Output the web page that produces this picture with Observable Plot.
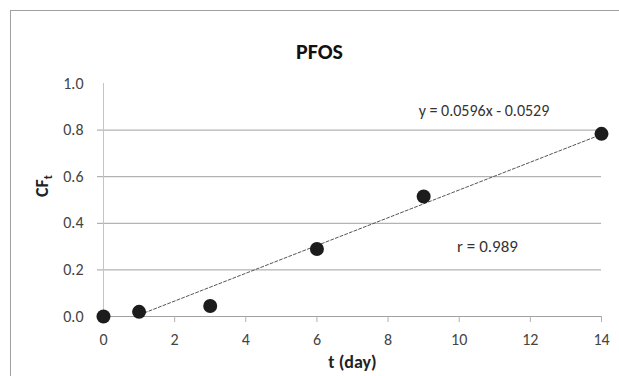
<!DOCTYPE html>
<html>
<head>
<meta charset="utf-8">
<script src="https://cdn.jsdelivr.net/npm/d3@7"></script>
<script src="https://cdn.jsdelivr.net/npm/@observablehq/plot@0.6"></script>
<style>
  body { margin: 0; background: #fff; overflow: hidden; }
  #wrap { position: relative; width: 619px; height: 376px; }
  #border { position: absolute; left: 10px; top: 10px; width: 700px; height: 500px; border-left: 1px solid #a0a0a0; border-top: 1px solid #a0a0a0; pointer-events: none; }
  #chart { position: absolute; left: 0; top: 0; }
  svg { font-family: Carlito, "Liberation Sans", Arial, sans-serif; }
</style>
</head>
<body>
<div id="wrap"><div id="border"></div><div id="chart"></div></div>
<script>
const days = [0, 1, 3, 6, 9, 14];
const cf = [0.0, 0.02, 0.045, 0.29, 0.515, 0.784];
const xTicks = [0, 2, 4, 6, 8, 10, 12, 14];
const yTicks = [0.0, 0.2, 0.4, 0.6, 0.8, 1.0];
const gridTicks = [0.2, 0.4, 0.6, 0.8];
const slope = 0.0596, intercept = -0.0529;
const title = "PFOS";
const eqLabel = "y = 0.0596x - 0.0529";
const rLabel = "r = 0.989";

const points = days.map((d, i) => ({x: d, y: cf[i]}));
const x0 = -intercept / slope, x1 = d3.max(days);
const trend = [x0, x1].map(x => ({x, y: slope * x + intercept}));

const chart = Plot.plot({
  width: 619,
  height: 376,
  marginLeft: 103,
  marginRight: 18,
  marginTop: 83,
  marginBottom: 60,
  style: {fontFamily: 'Carlito, "Liberation Sans", Arial, sans-serif', background: "transparent"},
  x: {domain: [0, 14], ticks: xTicks, tickFormat: d => String(d), label: null},
  y: {domain: [0, 1], ticks: yTicks, tickFormat: d => d.toFixed(1), label: null},
  marks: [
    Plot.ruleY(gridTicks, {stroke: "#a0a0a0", strokeWidth: 1}),
    Plot.ruleX([0], {y1: 0, y2: 1, stroke: "#c4c4c4"}),
    Plot.ruleY([0], {stroke: "#a0a0a0"}),
    Plot.axisX({ticks: xTicks, tickSize: 6, tickPadding: 11, stroke: "#b0b0b0", fill: "#444", fontSize: 16}),
    Plot.axisY({ticks: gridTicks.concat([0]), tickSize: 6, tickPadding: 14, stroke: "#a0a0a0", fill: "#444", fontSize: 16, text: null}),
    Plot.axisY({ticks: yTicks, tickSize: 0, tickPadding: 20, fill: "#444", fontSize: 16}),
    Plot.line(trend, {x: "x", y: "y", stroke: "#555", strokeWidth: 1, strokeDasharray: "3,2"}),
    Plot.dot(points, {x: "x", y: "y", r: 7, fill: "#1c1c1c", stroke: "none"}),
    Plot.text([title], {frameAnchor: "top", dx: -33, dy: -40, fontSize: 22, fontWeight: "bold", fill: "#111"}),
    Plot.text([eqLabel], {x: [8.86], y: [0.881], textAnchor: "start", fontSize: 16, fill: "#333"}),
    Plot.text([rLabel], {x: [9.94], y: [0.301], textAnchor: "start", fontSize: 17, fill: "#333"}),
    Plot.text(["t (day)"], {frameAnchor: "bottom", dx: 0, dy: 51, fontSize: 18, fontWeight: "bold", fill: "#222"}),
    Plot.text(["CF"], {frameAnchor: "left", dx: -61, dy: -3, rotate: -90, fontSize: 18, fontWeight: "bold", fill: "#222", className: "ylab"})
  ]
});
document.getElementById("chart").appendChild(chart);

// add subscript to y label
d3.select(chart).selectAll(".ylab text").each(function() {
  const t = d3.select(this);
  t.text(null);
  t.append("tspan").text("CF");
  t.append("tspan").attr("font-size", 12).attr("dy", "0.35em").text("t");
});
</script>
</body>
</html>
